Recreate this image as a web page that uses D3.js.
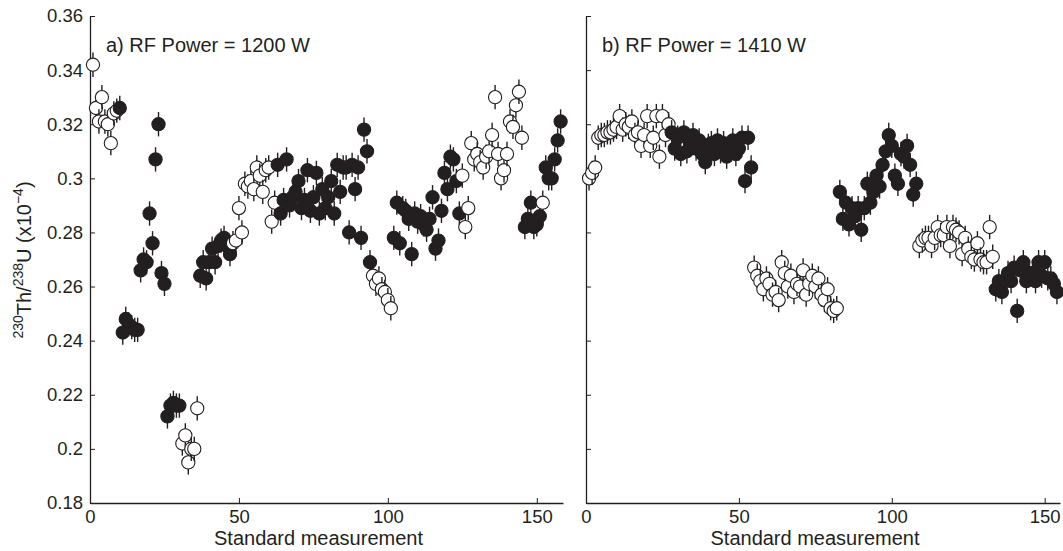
<!DOCTYPE html>
<html>
<head>
<meta charset="utf-8">
<script src="https://cdn.jsdelivr.net/npm/d3@7"></script>
<style>
  body { margin: 0; background: #fff; }
  svg text { font-family: "Liberation Sans", Arial, sans-serif; fill: #231f20; }
</style>
</head>
<body>
<svg id="chart" width="1063" height="551"></svg>
<script>
const leftValues = [
  .342, .326, .321, .330, .321, .320, .313, .324, .325, .326,
  .243, .248, .246, .245, .244, .244, .266, .270, .269, .287,
  .276, .307, .320, .265, .261, .212, .216, .217, .216, .216,
  .202, .205, .195, .200, .200, .215, .264, .269, .263, .269,
  .274, .269, .275, .277, .278, .275, .272, .276, .277, .289,
  .280, .298, .297, .299, .296, .304, .301, .295, .303, .304,
  .284, .291, .305, .287, .292, .307, .290, .293, .295, .299,
  .289, .292, .303, .288, .293, .302, .287, .296, .289, .293,
  .299, .287, .305, .295, .304, .304, .280, .305, .296, .304,
  .278, .318, .310, .269, .264, .261, .263, .259, .258, .255,
  .252, .278, .291, .276, .289, .288, .285, .272, .287, .284,
  .286, .283, .281, .285, .293, .274, .277, .288, .302, .296,
  .308, .307, .299, .287, .301, .282, .289, .313, .307, .309,
  .306, .304, .308, .310, .316, .330, .309, .300, .303, .309,
  .321, .319, .327, .332, .315, .282, .285, .291, .282, .283,
  .286, .291, .304, .300, .300, .307, .314, .321
];
// 1 = filled marker, 0 = open marker
const leftFilled = [
  0, 0, 0, 0, 0, 0, 0, 0, 0, 1,
  1, 1, 1, 1, 1, 1, 1, 1, 1, 1,
  1, 1, 1, 1, 1, 1, 1, 1, 1, 1,
  0, 0, 0, 0, 0, 0, 1, 1, 1, 1,
  1, 1, 1, 1, 1, 1, 1, 0, 0, 0,
  0, 0, 0, 0, 0, 0, 0, 0, 0, 0,
  0, 0, 1, 1, 1, 1, 1, 1, 1, 1,
  1, 1, 1, 1, 1, 1, 1, 1, 1, 1,
  1, 1, 1, 1, 1, 1, 1, 1, 1, 1,
  1, 1, 1, 1, 0, 0, 0, 0, 0, 0,
  0, 1, 1, 1, 1, 1, 1, 1, 1, 1,
  1, 1, 1, 1, 1, 1, 1, 1, 1, 1,
  1, 1, 1, 1, 0, 0, 0, 0, 0, 0,
  0, 0, 0, 0, 0, 0, 0, 0, 0, 0,
  0, 0, 0, 0, 0, 1, 1, 1, 1, 1,
  1, 0, 1, 1, 1, 1, 1, 1
];

const rightValues = [
  .300, .302, .304, .315, .316, .316, .317, .317, .318, .319,
  .323, .318, .320, .319, .321, .316, .317, .312, .316, .323,
  .312, .315, .323, .308, .323, .316, .320, .317, .311, .315,
  .309, .317, .310, .313, .316, .311, .314, .309, .306, .312,
  .313, .309, .314, .310, .313, .308, .311, .314, .309, .311,
  .315, .299, .315, .304, .267, .264, .262, .259, .263, .261,
  .257, .258, .255, .269, .265, .260, .264, .258, .261, .260,
  .266, .257, .261, .264, .260, .263, .257, .255, .259, .252,
  .251, .252, .295, .285, .291, .283, .289, .286, .289, .281,
  .289, .298, .291, .295, .301, .297, .305, .310, .316, .312,
  .301, .298, .309, .308, .312, .305, .294, .298, .275, .277,
  .278, .278, .275, .278, .282, .279, .279, .282, .275, .282,
  .281, .280, .272, .278, .274, .271, .270, .276, .270, .269,
  .269, .282, .271, .259, .262, .258, .262, .265, .262, .267,
  .251, .266, .269, .262, .265, .265, .262, .269, .264, .269,
  .263, .263, .261, .258
];
const rightFilled = [
  0, 0, 0, 0, 0, 0, 0, 0, 0, 0,
  0, 0, 0, 0, 0, 0, 0, 0, 0, 0,
  0, 0, 0, 0, 0, 0, 0, 1, 1, 1,
  1, 1, 1, 1, 1, 1, 1, 1, 1, 1,
  1, 1, 1, 1, 1, 1, 1, 1, 1, 1,
  1, 1, 1, 1, 0, 0, 0, 0, 0, 0,
  0, 0, 0, 0, 0, 0, 0, 0, 0, 0,
  0, 0, 0, 0, 0, 0, 0, 0, 0, 0,
  0, 0, 1, 1, 1, 1, 1, 1, 1, 1,
  1, 1, 1, 1, 1, 1, 1, 1, 1, 1,
  1, 1, 1, 1, 1, 1, 1, 1, 0, 0,
  0, 0, 0, 0, 0, 0, 0, 0, 0, 0,
  0, 0, 0, 0, 0, 0, 0, 0, 0, 0,
  0, 0, 0, 1, 1, 1, 1, 1, 1, 1,
  1, 1, 1, 1, 1, 1, 1, 1, 1, 1,
  1, 1, 1, 1
];

const errHalf = 0.0045;      // typical half length of the error bars
const yTicks = [0.18, 0.2, 0.22, 0.24, 0.26, 0.28, 0.3, 0.32, 0.34, 0.36];
const xTicks = [0, 50, 100, 150];
const titles = ["a) RF Power = 1200 W", "b) RF Power = 1410 W"];

const ink = "#231f20";
const svg = d3.select("#chart");

const y = d3.scaleLinear().domain([0.18, 0.36]).range([503, 16]);

const panels = [
  { left: 90, right: 563, xMax: 158.8, values: leftValues, filled: leftFilled, title: titles[0], labels: true },
  { left: 586, right: 1060, xMax: 155, values: rightValues, filled: rightFilled, title: titles[1], labels: false }
];

panels.forEach(p => {
  const x = d3.scaleLinear().domain([0, p.xMax]).range([p.left, p.right]);
  const g = svg.append("g");

  // y axis
  const yAxis = d3.axisLeft(y)
    .tickValues(yTicks)
    .tickSizeInner(-5)
    .tickSizeOuter(0)
    .tickPadding(7)
    .tickFormat(d => p.labels ? String(+d.toFixed(2)) : "");
  const ya = g.append("g").attr("transform", `translate(${p.left},0)`).call(yAxis);

  // x axis
  const xAxis = d3.axisBottom(x)
    .tickValues(xTicks)
    .tickSizeInner(-5)
    .tickSizeOuter(0)
    .tickPadding(7);
  const xa = g.append("g").attr("transform", `translate(0,${y(0.18)})`).call(xAxis);

  [ya, xa].forEach(a => {
    a.select(".domain").attr("stroke", ink).attr("stroke-width", 1.3);
    a.selectAll(".tick line").attr("stroke", ink).attr("stroke-width", 1);
    a.selectAll(".tick text").style("font-size", "18.5px").attr("fill", ink);
  });

  // x label
  g.append("text")
    .attr("x", (p.left + p.right) / 2 - 8)
    .attr("y", 545)
    .attr("text-anchor", "middle")
    .style("font-size", "20px")
    .text("Standard measurement");

  // panel title
  g.append("text")
    .attr("x", p.left + 16)
    .attr("y", 52)
    .style("font-size", "20px")
    .text(p.title);

  const pts = p.values.map((v, i) => ({ i: i + 1, v: v, filled: p.filled[i] === 1 }));

  const mk = g.append("g").selectAll("g")
    .data(pts)
    .join("g");

  mk.append("line")
    .attr("x1", d => x(d.i)).attr("x2", d => x(d.i))
    .attr("y1", d => y(d.v - errHalf)).attr("y2", d => y(d.v + errHalf))
    .attr("stroke", ink)
    .attr("stroke-width", 1.4);

  mk.append("circle")
    .attr("cx", d => x(d.i))
    .attr("cy", d => y(d.v))
    .attr("r", 6.6)
    .attr("fill", d => d.filled ? ink : "#fff")
    .attr("stroke", ink)
    .attr("stroke-width", 1.1);
});

// y axis label with superscripts
const yl = svg.append("text")
  .attr("transform", "translate(31,260) rotate(-90)")
  .attr("text-anchor", "middle")
  .style("font-size", "20px");
yl.append("tspan").attr("baseline-shift", "super").style("font-size", "14px").text("230");
yl.append("tspan").text("Th/");
yl.append("tspan").attr("baseline-shift", "super").style("font-size", "14px").text("238");
yl.append("tspan").text("U (x10");
yl.append("tspan").attr("baseline-shift", "super").style("font-size", "14px").text("\u22124");
yl.append("tspan").text(")");
</script>
</body>
</html>
